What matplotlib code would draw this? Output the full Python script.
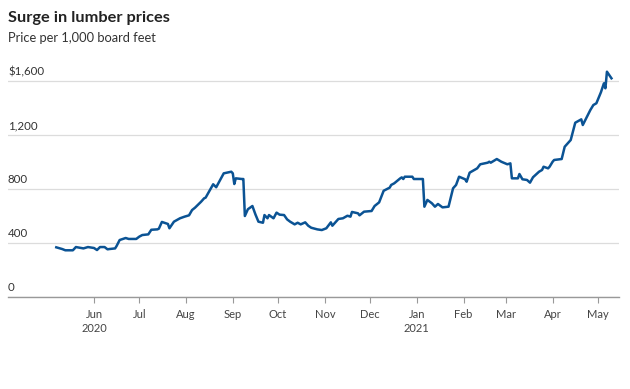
import numpy as np
import pandas as pd
import matplotlib.pyplot as plt
import matplotlib.dates as mdates
import matplotlib.transforms as mtransforms

plt.rcParams['font.family'] = ['Lato', 'DejaVu Sans']

dates = [
    '2020-05-07', '2020-05-11', '2020-05-13', '2020-05-18', '2020-05-20', '2020-05-25',
    '2020-05-28', '2020-06-01', '2020-06-03', '2020-06-05', '2020-06-08', '2020-06-10',
    '2020-06-11', '2020-06-15', '2020-06-16', '2020-06-18', '2020-06-22', '2020-06-24',
    '2020-06-29', '2020-07-01', '2020-07-03', '2020-07-07', '2020-07-09', '2020-07-13',
    '2020-07-14', '2020-07-16', '2020-07-20', '2020-07-21', '2020-07-24', '2020-07-28',
    '2020-07-31', '2020-08-03', '2020-08-05', '2020-08-07', '2020-08-11', '2020-08-13',
    '2020-08-14', '2020-08-19', '2020-08-21', '2020-08-26', '2020-08-31', '2020-09-01',
    '2020-09-02', '2020-09-03', '2020-09-07', '2020-09-08', '2020-09-09', '2020-09-11',
    '2020-09-14', '2020-09-16', '2020-09-18', '2020-09-21', '2020-09-22', '2020-09-24',
    '2020-09-25', '2020-09-28', '2020-09-30', '2020-10-02', '2020-10-05', '2020-10-07',
    '2020-10-09', '2020-10-12', '2020-10-14', '2020-10-16', '2020-10-19', '2020-10-21',
    '2020-10-23', '2020-10-27', '2020-10-30', '2020-11-02', '2020-11-05', '2020-11-06',
    '2020-11-10', '2020-11-13', '2020-11-16', '2020-11-18', '2020-11-19', '2020-11-23',
    '2020-11-24', '2020-11-27', '2020-12-02', '2020-12-04', '2020-12-07', '2020-12-10',
    '2020-12-14', '2020-12-15', '2020-12-17', '2020-12-21', '2020-12-22', '2020-12-23',
    '2020-12-24', '2020-12-29', '2020-12-30', '2021-01-04', '2021-01-05', '2021-01-06',
    '2021-01-08', '2021-01-11', '2021-01-13', '2021-01-15', '2021-01-18', '2021-01-22',
    '2021-01-25', '2021-01-27', '2021-01-29', '2021-02-02', '2021-02-03', '2021-02-05',
    '2021-02-10', '2021-02-12', '2021-02-17', '2021-02-18', '2021-02-19', '2021-02-23',
    '2021-02-26', '2021-03-02', '2021-03-04', '2021-03-05', '2021-03-09', '2021-03-10',
    '2021-03-12', '2021-03-15', '2021-03-17', '2021-03-19', '2021-03-23', '2021-03-25',
    '2021-03-26', '2021-03-29', '2021-03-30', '2021-04-01', '2021-04-02', '2021-04-07',
    '2021-04-09', '2021-04-13', '2021-04-16', '2021-04-20', '2021-04-21', '2021-04-26',
    '2021-04-28', '2021-04-30', '2021-05-03', '2021-05-05', '2021-05-06', '2021-05-07',
    '2021-05-10',
]
prices = [
    368, 355, 346, 346, 370, 360,
    370, 363, 348, 370, 370, 353,
    355, 360, 378, 422, 437, 430,
    430, 447, 459, 464, 498, 501,
    506, 556, 541, 509, 558, 583,
    595, 605, 644, 662, 706, 731,
    736, 835, 813, 916, 928, 916,
    837, 879, 874, 874, 600, 650,
    674, 612, 558, 550, 607, 583,
    607, 583, 625, 610, 607, 575,
    558, 538, 550, 538, 553, 528,
    513, 501, 496, 509, 553, 528,
    578, 583, 602, 595, 630, 620,
    605, 632, 637, 674, 701, 787,
    810, 830, 842, 879, 886, 874,
    891, 891, 874, 874, 874, 669,
    719, 694, 669, 689, 664, 669,
    805, 830, 891, 872, 854, 921,
    953, 983, 995, 1002, 995, 1022,
    1002, 983, 990, 879, 879, 911,
    872, 867, 847, 887, 928, 941,
    965, 953, 965, 1002, 1015, 1022,
    1113, 1163, 1291, 1316, 1274, 1385,
    1422, 1435, 1516, 1583, 1546, 1669,
    1620,
]

y_ticks = [0, 400, 800, 1200, 1600]
y_labels = ['0', '400', '800', '1,200', '$1,600']
month_ticks = pd.date_range('2020-06-01', '2021-05-01', freq='MS')
month_labels = ['Jun\n2020', 'Jul', 'Aug', 'Sep', 'Oct', 'Nov', 'Dec',
                'Jan\n2021', 'Feb', 'Mar', 'Apr', 'May']

x = pd.to_datetime(dates)

fig = plt.figure(figsize=(6.3, 3.89), dpi=100)
ax = fig.add_axes([8 / 630, 1 - 297 / 389, 611 / 630, 229.5 / 389])

ax.plot(x, prices, color='#0b5394', linewidth=1.8, solid_joinstyle='round', zorder=3)

ax.set_ylim(0, 1700)
ax.set_xlim(pd.Timestamp('2020-04-05'), pd.Timestamp('2021-05-15'))

ax.set_yticks(y_ticks)
ax.set_yticklabels([])
ax.tick_params(axis='y', length=0)
ax.grid(axis='y', color='#dcdcdc', linewidth=0.9)
ax.set_axisbelow(True)

trans = mtransforms.blended_transform_factory(ax.transAxes, ax.transData)
for v, lab in zip(y_ticks, y_labels):
    ax.text(0, v + 28, lab, transform=trans, ha='left', va='bottom',
            fontsize=8.3, color='#333333')

ax.set_xticks(month_ticks)
ax.set_xticklabels(month_labels, fontsize=8, color='#444444', linespacing=1.25)
ax.tick_params(axis='x', length=4, width=0.8, color='#999999', pad=5)

for s in ['top', 'right', 'left']:
    ax.spines[s].set_visible(False)
ax.spines['bottom'].set_color('#999999')
ax.spines['bottom'].set_linewidth(1.0)

fig.text(8 / 630, 1 - 18 / 389, 'Surge in lumber prices', fontsize=11.8,
         fontweight='bold', color='#222222', ha='left', va='center')
fig.text(8 / 630, 1 - 38 / 389, 'Price per 1,000 board feet', fontsize=9.3,
         color='#333333', ha='left', va='center')

fig.savefig('out.png', dpi=100)
